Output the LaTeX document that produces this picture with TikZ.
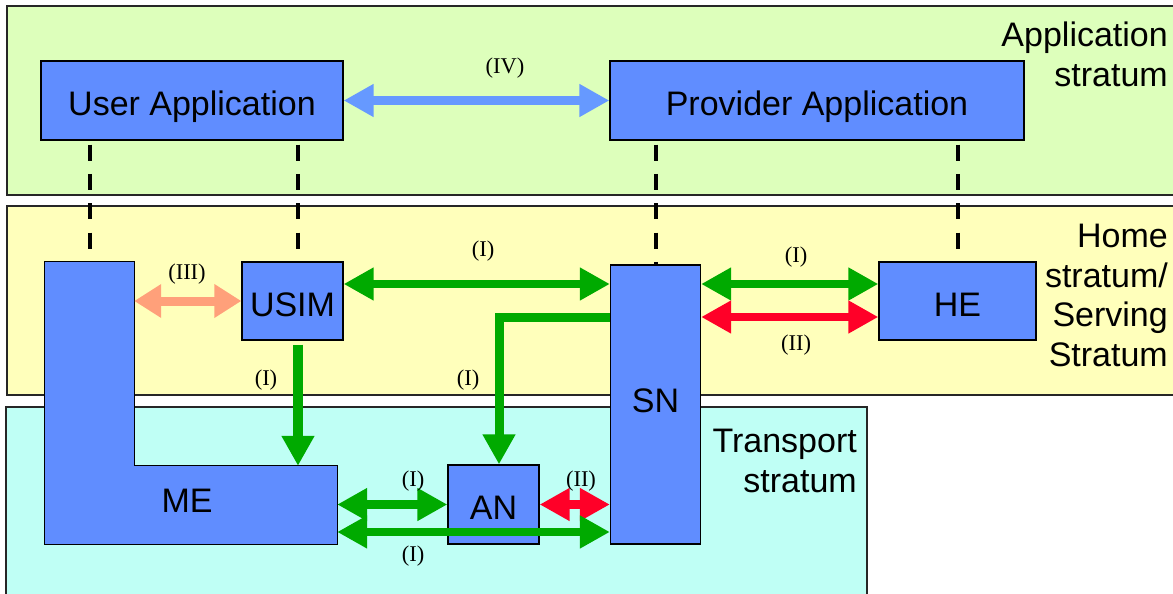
\documentclass[tikz,border=0pt]{standalone}
\usepackage{fontspec}
\setmainfont{Liberation Sans}
\newfontfamily\labserif{Liberation Serif}
\usetikzlibrary{arrows.meta}
\definecolor{appbg}{HTML}{DDFFBB}
\definecolor{homebg}{HTML}{FFFFBB}
\definecolor{transbg}{HTML}{BFFFF5}
\definecolor{boxblue}{HTML}{608DFF}
\definecolor{arrblue}{HTML}{6699FF}
\definecolor{arrgreen}{HTML}{00AA00}
\definecolor{arrred}{HTML}{FF0028}
\definecolor{arrsalmon}{HTML}{FFA07A}
\begin{document}
\begin{tikzpicture}[x=1pt,y=-1pt,
  stratum/.style={draw=black!85,line width=1.5pt},
  box/.style={draw=black,line width=1.3pt,fill=boxblue,inner sep=0pt,
    font=\fontsize{34}{40}\selectfont,text height=30.4pt,text depth=0pt},
  ghost/.style={inner sep=0pt},
  boxtext/.style={inner sep=0pt,font=\fontsize{34}{40}\selectfont,text height=24.3pt,text depth=0pt},
  lab/.style={inner sep=0pt,font=\labserif\fontsize{22.5}{24}\selectfont},
  slab/.style={align=right,anchor=north east,inner sep=0pt,font=\fontsize{34}{39.5}\selectfont},
  vdash/.style={line width=4pt,dash pattern=on 16pt off 13.3pt},
  dbl/.style={line width=8.5pt,{Triangle[length=30pt,width=31pt]}-{Triangle[length=30pt,width=31pt]}},
  sgl/.style={line width=9pt,line join=miter,-{Triangle[length=30pt,width=31pt]}},
]
\useasboundingbox (0,0) rectangle (1173,594);
\clip (0,0) rectangle (1173,594);

% strata
\draw[stratum,fill=appbg] (7,6) rectangle (1185,195);
\draw[stratum,fill=homebg] (7,206) rectangle (1185,395);
\draw[stratum,fill=transbg] (6,407) rectangle (867,610);

\node[slab] (apptxt) at (1168,22) {Application\\stratum};
\node[slab] (hometxt) at (1168,224) {Home\\stratum/\\Serving\\Stratum};
\node[slab] (transtxt) at (857,429) {Transport\\stratum};

% application boxes
\node[box,minimum width=302pt,minimum height=79pt] (ua) at (192,100.5) {User Application};
\node[box,minimum width=414pt,minimum height=79pt] (pa) at (817,100.5) {Provider Application};

% ME placeholders
\node[ghost,minimum width=89pt,minimum height=282pt] (mev) at (89.5,403) {};
\node[ghost,minimum width=292pt,minimum height=78pt] (meh) at (191,505) {};

\node[box,minimum width=101pt,minimum height=78pt] (usim) at (292.5,301) {USIM};
\node[box,minimum width=157pt,minimum height=78pt] (he) at (957.5,301) {HE};

% dashed links
\coordinate (ud) at ([xshift=5.5pt]usim.north);
\node[ghost,minimum width=90pt,minimum height=279pt] (snph) at (655.5,404.5) {};
\draw[vdash] (ua.south -| mev.north) ++(0,4) -- (mev.north);
\draw[vdash] (ua.south -| ud) ++(0,4) -- (ud);
\draw[vdash] (ua.south -| he.north) ++(0,4) -- (he.north);
\draw[vdash] (ua.south -| snph.north) ++(0,4) -- (snph.north);

% ME shape
\filldraw[draw=black,line width=1.3pt,fill=boxblue]
  (mev.north west) -- (mev.north east) -- (mev.east |- meh.north)
  -- (meh.north east) -- (meh.south east) -- (meh.south west) -- cycle;
\node[boxtext] (melab) at (187,500.5) {ME};

% SN and AN
\node[box,minimum width=90pt,minimum height=279pt] (sn) at (655.5,404.5) {};
\node[boxtext] (snlab) at (655.5,400.5) {SN};
\node[box,minimum width=91pt,minimum height=79pt] (an) at (493.5,504.5) {AN};

% arrows
\draw[dbl,arrblue,line width=9pt] (ua.east) -- (pa.west);
\node[lab] (l4) at (505,68) {(IV)};

\draw[dbl,arrsalmon,line width=9pt,{Triangle[length=27pt,width=32pt]}-{Triangle[length=27pt,width=32pt]}] (usim.west -| mev.east) -- (usim.west);
\node[lab] (l3) at (187,274) {(III)};

\coordinate (a1) at ([yshift=17pt]usim.east);
\draw[dbl,arrgreen] (a1) -- (a1 -| sn.west);
\node[lab] (l1a) at (483,251) {(I)};

\coordinate (h1) at ([yshift=17pt]he.west);
\draw[dbl,arrgreen] (h1 -| sn.east) -- (h1);
\node[lab] (l1b) at (796,257) {(I)};
\coordinate (h2) at ([yshift=-16pt]he.west);
\draw[dbl,arrred] (h2 -| sn.east) -- (h2);
\node[lab] (l2a) at (796,345) {(II)};

\coordinate (s1) at (sn.west |- h2);
\coordinate (anin) at ([xshift=5.5pt]an.north);
\draw[sgl,arrgreen] (s1) -| (anin);
\node[lab] (l1c) at (468,380) {(I)};

\coordinate (usimout) at ([xshift=5.5pt]usim.south);
\draw[sgl,arrgreen,line width=10pt,shorten <=4pt] (usimout) -- (usimout |- meh.north);
\node[lab] (l1d) at (266,380) {(I)};

\draw[dbl,arrgreen] (an.west -| meh.east) -- (an.west);
\node[lab] (l1e) at (413,481) {(I)};

\draw[dbl,arrred] (an.east) -- (an.east -| sn.west);
\node[lab] (l2b) at (581,481) {(II)};

\coordinate (m2) at ([yshift=-27pt]meh.east);
\draw[dbl,arrgreen] (m2) -- (m2 -| sn.west);
\node[lab] (l1f) at (413,556) {(I)};
\end{tikzpicture}
\end{document}
